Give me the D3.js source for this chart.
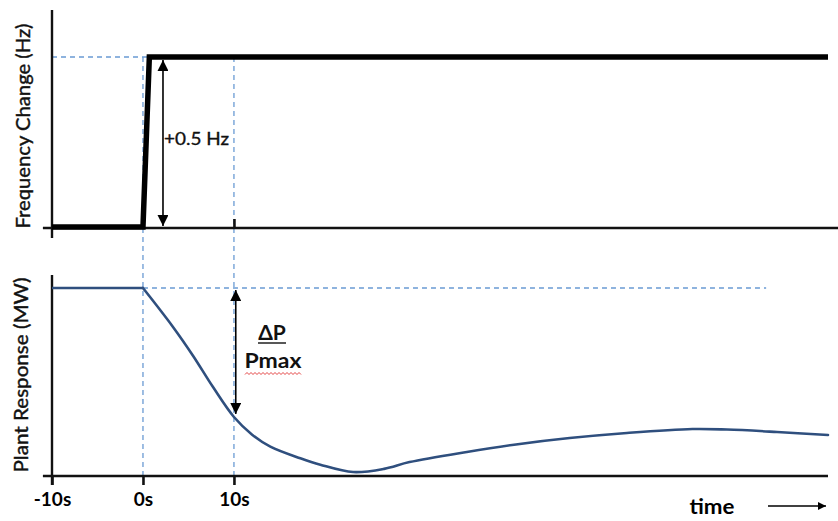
<!DOCTYPE html>
<html>
<head>
<meta charset="utf-8">
<script src="https://cdn.jsdelivr.net/npm/d3@7/dist/d3.min.js"></script>
<style>
  html, body { margin: 0; padding: 0; background: #fff; }
  svg { display: block; font-family: Lato, "Open Sans", sans-serif; }
</style>
</head>
<body>
<svg id="chart" width="838" height="521"></svg>
<script>
// ---- data ----
const tickValues = [-10, 0, 10];
const tickLabels = ["-10s", "0s", "10s"];

// frequency change (Hz) vs time (s)
const freqTime  = [-10, 0, 0.7, 75.3];
const freqValue = [0, 0, 0.5, 0.5];

// plant response (% of initial output) vs time (s)
const plantTime  = [-10, 0, 3.3, 5.5, 7.7, 10, 12, 14, 17.3, 19.5, 23.1, 26.5, 29.3, 35.6, 41, 46.9, 53.2, 60.4, 64.2, 69.7, 75.3];
const plantValue = [100, 100, 79.3, 64, 47.3, 31.4, 22.0, 15.6, 9.4, 6.0, 2.1, 3.8, 7.4, 12.8, 16.8, 20.2, 22.9, 25.0, 24.7, 23.4, 21.8];

const stepAmplitude = 0.5;
const stepLabel = "+0.5 Hz";
const arrowTimeTop = 2.2;
const refLineEnd = 68.5;

// ---- layout ----
const svg = d3.select("#chart");
const x = d3.scaleLinear().domain([-10, 75.3]).range([52, 828]);
const yTop = d3.scaleLinear().domain([0, 0.5]).range([227, 57]);
const yBot = d3.scaleLinear().domain([0, 100]).range([476, 288]);

const dashColor = "#6A9BD3";
const curveColor = "#2F4F7E";

// arrow markers
const defs = svg.append("defs");
defs.append("marker").attr("id", "arrow")
  .attr("viewBox", "0 0 10 10").attr("refX", 10).attr("refY", 5)
  .attr("markerWidth", 11).attr("markerHeight", 11)
  .attr("markerUnits", "userSpaceOnUse")
  .attr("orient", "auto-start-reverse")
  .append("path").attr("d", "M0,0 L10,5 L0,10 Z").attr("fill", "#000");
defs.append("marker").attr("id", "arrowSmall")
  .attr("viewBox", "0 0 10 10").attr("refX", 10).attr("refY", 5)
  .attr("markerWidth", 8).attr("markerHeight", 8)
  .attr("markerUnits", "userSpaceOnUse")
  .attr("orient", "auto")
  .append("path").attr("d", "M0,0 L10,5 L0,10 Z").attr("fill", "#000");

// ---- dashed reference lines ----
const dash = svg.append("g").attr("stroke", dashColor).attr("stroke-width", 1.3)
  .attr("stroke-dasharray", "5,4").attr("fill", "none");
dash.append("line").attr("x1", x(-10)).attr("x2", x(0.5))
  .attr("y1", yTop(stepAmplitude)).attr("y2", yTop(stepAmplitude));
[0, 10].forEach(t => {
  dash.append("line").attr("x1", x(t)).attr("x2", x(t))
    .attr("y1", yTop(stepAmplitude)).attr("y2", yBot(0));
});
dash.append("line").attr("x1", x(0)).attr("x2", x(refLineEnd))
  .attr("y1", yBot(100)).attr("y2", yBot(100));

// ---- top panel axes ----
const axisCol = "#111";
svg.append("line").attr("x1", x(-10)).attr("x2", x(-10)).attr("y1", 10).attr("y2", 238)
  .attr("stroke", axisCol).attr("stroke-width", 2.4);
svg.append("line").attr("x1", x(-11)).attr("x2", 838).attr("y1", yTop(0) + 1).attr("y2", yTop(0) + 1)
  .attr("stroke", axisCol).attr("stroke-width", 2.4);
const topAxis = svg.append("g").attr("transform", `translate(0,${yTop(0) + 1})`)
  .call(d3.axisTop(x).tickValues([10]).tickSize(9).tickFormat(""));
topAxis.select(".domain").remove();
topAxis.selectAll(".tick line").attr("stroke", axisCol).attr("stroke-width", 2.6);

// frequency step
svg.append("path")
  .datum(freqTime.map((t, i) => [t, freqValue[i]]))
  .attr("d", d3.line().x(d => x(d[0])).y(d => yTop(d[1])))
  .attr("fill", "none").attr("stroke", "#000").attr("stroke-width", 5.5)
  .attr("stroke-linejoin", "miter");

// top double arrow
svg.append("line")
  .attr("x1", x(arrowTimeTop)).attr("x2", x(arrowTimeTop))
  .attr("y1", yTop(stepAmplitude) + 3).attr("y2", yTop(0) - 1)
  .attr("stroke", "#000").attr("stroke-width", 1.6)
  .attr("marker-start", "url(#arrow)").attr("marker-end", "url(#arrow)");
svg.append("text").attr("x", x(arrowTimeTop) + 1).attr("y", 145)
  .attr("font-size", 18).attr("fill", "#111").attr("stroke", "#111").attr("stroke-width", 0.35)
  .attr("textLength", 65).attr("lengthAdjust", "spacingAndGlyphs")
  .text(stepLabel);

svg.append("text")
  .attr("transform", `translate(30,126) rotate(-90)`)
  .attr("text-anchor", "middle").attr("font-size", 18.5).attr("fill", "#111")
  .attr("stroke", "#111").attr("stroke-width", 0.4)
  .attr("textLength", 205).attr("lengthAdjust", "spacingAndGlyphs")
  .text("Frequency Change (Hz)");

// ---- bottom panel axes ----
svg.append("line").attr("x1", x(-10)).attr("x2", x(-10)).attr("y1", 275).attr("y2", 485)
  .attr("stroke", axisCol).attr("stroke-width", 2.4);
svg.append("line").attr("x1", x(-11)).attr("x2", x(75.3)).attr("y1", yBot(0)).attr("y2", yBot(0))
  .attr("stroke", axisCol).attr("stroke-width", 2.4);
const botAxis = svg.append("g").attr("transform", `translate(0,${yBot(0)})`)
  .call(d3.axisBottom(x).tickValues(tickValues).tickSize(9).tickPadding(8)
    .tickFormat((d, i) => tickLabels[i]));
botAxis.select(".domain").remove();
botAxis.selectAll(".tick line").attr("stroke", axisCol).attr("stroke-width", 2.6);
botAxis.selectAll(".tick text").attr("font-family", "Lato, sans-serif")
  .attr("font-size", 19).attr("font-weight", "bold").attr("fill", "#000");

// plant response curve
const pts = plantTime.map((t, i) => [t, plantValue[i]]);
svg.append("path").datum(pts.slice(0, 2))
  .attr("d", d3.line().x(d => x(d[0])).y(d => yBot(d[1])))
  .attr("fill", "none").attr("stroke", curveColor).attr("stroke-width", 2.6);
svg.append("path").datum(pts.slice(1))
  .attr("d", d3.line().curve(d3.curveCatmullRom.alpha(0.5)).x(d => x(d[0])).y(d => yBot(d[1])))
  .attr("fill", "none").attr("stroke", curveColor).attr("stroke-width", 2.6)
  .attr("stroke-linecap", "round");

// bottom double arrow
svg.append("line")
  .attr("x1", x(10.2)).attr("x2", x(10.2))
  .attr("y1", yBot(100) + 2).attr("y2", yBot(33))
  .attr("stroke", "#000").attr("stroke-width", 1.6)
  .attr("marker-start", "url(#arrow)").attr("marker-end", "url(#arrow)");

// ΔP / Pmax label
svg.append("text").attr("x", 272).attr("y", 340).attr("text-anchor", "middle")
  .attr("font-size", 21).attr("font-weight", "bold").attr("fill", "#111").text("ΔP");
svg.append("line").attr("x1", 258).attr("x2", 286).attr("y1", 343).attr("y2", 343)
  .attr("stroke", "#111").attr("stroke-width", 1.4);
svg.append("text").attr("x", 273).attr("y", 368).attr("text-anchor", "middle")
  .attr("font-size", 21).attr("font-weight", "bold").attr("fill", "#111")
  .attr("textLength", 57).attr("lengthAdjust", "spacingAndGlyphs").text("Pmax");
// spell-check squiggle under Pmax
const sq = d3.range(245, 303, 2).map((px, i) => [px, 373.5 + (i % 2 ? -1 : 1)]);
svg.append("path").datum(sq).attr("d", d3.line())
  .attr("fill", "none").attr("stroke", "#E03030").attr("stroke-width", 0.9);

svg.append("text")
  .attr("transform", `translate(28,375) rotate(-90)`)
  .attr("text-anchor", "middle").attr("font-size", 18.5).attr("fill", "#111")
  .attr("stroke", "#111").attr("stroke-width", 0.4)
  .attr("textLength", 195).attr("lengthAdjust", "spacingAndGlyphs")
  .text("Plant Response (MW)");

// time label + arrow
svg.append("text").attr("x", 712).attr("y", 514).attr("text-anchor", "middle")
  .attr("font-size", 20).attr("font-weight", "bold").attr("fill", "#000")
  .attr("textLength", 45).attr("lengthAdjust", "spacingAndGlyphs").text("time");
svg.append("line").attr("x1", 768).attr("x2", 826).attr("y1", 506).attr("y2", 506)
  .attr("stroke", "#000").attr("stroke-width", 1.5).attr("marker-end", "url(#arrowSmall)");
</script>
</body>
</html>
